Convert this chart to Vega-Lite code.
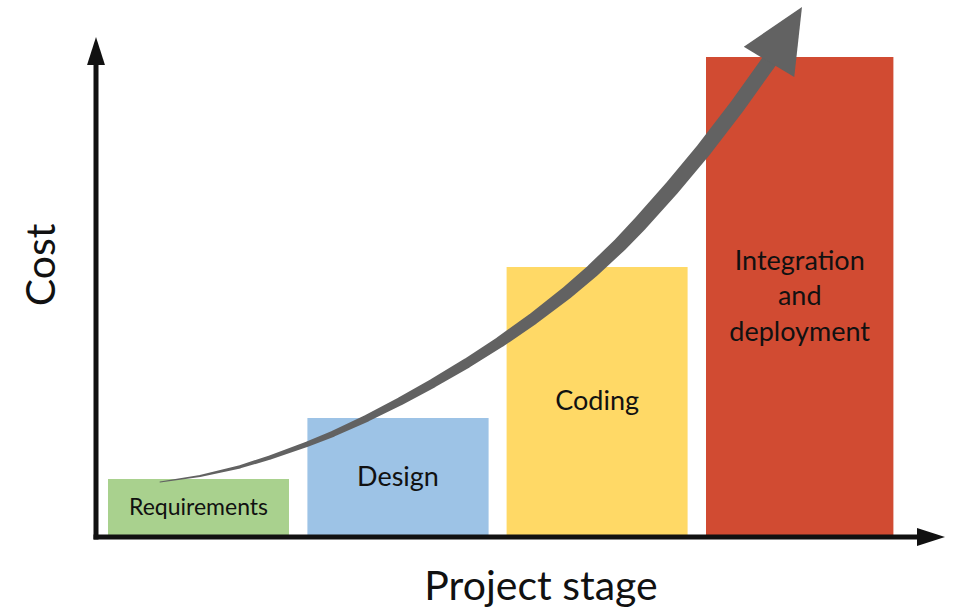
{
  "$schema": "https://vega.github.io/schema/vega-lite/v6.json",
  "width": 957,
  "height": 612,
  "padding": 0,
  "autosize": {"type": "none"},
  "background": "white",
  "config": {"view": {"stroke": null}},
  "datasets": {
    "stages": [
      {"stage": "Requirements", "label": "Requirements", "start": 0, "end": 0.905, "cost": 5.8},
      {"stage": "Design", "label": "Design", "start": 0.997, "end": 1.903, "cost": 11.9},
      {"stage": "Coding", "label": "Coding", "start": 1.993, "end": 2.898, "cost": 27.0},
      {"stage": "Integration and deployment", "label": ["Integration", "and", "deployment"], "start": 2.99, "end": 3.927, "cost": 48.0}
    ],
    "trend": [
      {"x": 0.26, "y": 5.5, "t": 0},
      {"x": 0.46, "y": 6.1, "t": 0.053},
      {"x": 0.66, "y": 7.02, "t": 0.106},
      {"x": 0.81, "y": 7.95, "t": 0.147},
      {"x": 0.995, "y": 9.28, "t": 0.198},
      {"x": 1.125, "y": 10.32, "t": 0.235},
      {"x": 1.295, "y": 11.88, "t": 0.283},
      {"x": 1.46, "y": 13.56, "t": 0.332},
      {"x": 1.625, "y": 15.38, "t": 0.381},
      {"x": 1.795, "y": 17.39, "t": 0.432},
      {"x": 1.96, "y": 19.5, "t": 0.483},
      {"x": 2.125, "y": 21.81, "t": 0.536},
      {"x": 2.295, "y": 24.43, "t": 0.592},
      {"x": 2.425, "y": 26.67, "t": 0.637},
      {"x": 2.56, "y": 29.23, "t": 0.685},
      {"x": 2.66, "y": 31.33, "t": 0.723},
      {"x": 2.82, "y": 34.91, "t": 0.785},
      {"x": 2.975, "y": 38.63, "t": 0.849},
      {"x": 3.145, "y": 43.05, "t": 0.921},
      {"x": 3.295, "y": 47.25, "t": 0.989},
      {"x": 3.32, "y": 47.97, "t": 1.0}
    ],
    "trendHead": [{"x": 3.3875, "y": 50.25}],
    "axes": [
      {"axis": "Cost", "x": -0.06, "y": -0.25, "x2": -0.06, "y2": 47.5},
      {"axis": "Project stage", "x": -0.0725, "y": 0, "x2": 4.06, "y2": 0}
    ],
    "titles": [
      {"title": "Cost", "x": -0.325, "y": 27.2, "rot": "v"},
      {"title": "Project stage", "x": 2.165, "y": -5.1, "rot": "h"}
    ]
  },
  "layer": [
    {
      "data": {"name": "stages"},
      "mark": {"type": "bar"},
      "encoding": {
        "x": {"field": "start", "type": "quantitative", "axis": null, "scale": {"domain": [-0.54, 4.245], "nice": false, "zero": false}},
        "x2": {"field": "end"},
        "y": {"field": "cost", "type": "quantitative", "axis": null, "scale": {"domain": [-7.5, 53.7], "nice": false, "zero": false}},
        "y2": {"datum": 0},
        "color": {
          "field": "stage", "type": "nominal", "legend": null,
          "scale": {"domain": ["Requirements", "Design", "Coding", "Integration and deployment"], "range": ["#a9d18e", "#9dc3e6", "#ffd966", "#d14b32"]}
        }
      }
    },
    {
      "data": {"name": "stages"},
      "transform": [
        {"filter": "datum.stage !== 'Integration and deployment'"},
        {"calculate": "(datum.start + datum.end) / 2", "as": "mid"},
        {"calculate": "datum.cost / 2", "as": "half"}
      ],
      "mark": {"type": "text", "font": "Lato", "color": "#111111", "align": "center", "baseline": "middle"},
      "encoding": {
        "x": {"field": "mid", "type": "quantitative", "axis": null},
        "y": {"field": "half", "type": "quantitative", "axis": null},
        "text": {"field": "label"},
        "size": {"condition": {"test": "datum.stage === 'Requirements'", "value": 23}, "value": 27}
      }
    },
    {
      "data": {"name": "stages"},
      "transform": [
        {"filter": "datum.stage === 'Integration and deployment'"},
        {"calculate": "(datum.start + datum.end) / 2", "as": "mid"},
        {"calculate": "datum.cost / 2", "as": "half"}
      ],
      "mark": {"type": "text", "font": "Lato", "fontSize": 27, "color": "#111111", "align": "center", "baseline": "middle", "lineHeight": 35.5, "dy": -35.5},
      "encoding": {
        "x": {"field": "mid", "type": "quantitative", "axis": null},
        "y": {"field": "half", "type": "quantitative", "axis": null},
        "text": {"field": "label"}
      }
    },
    {
      "data": {"name": "trend"},
      "mark": {"type": "trail", "color": "#626262"},
      "encoding": {
        "x": {"field": "x", "type": "quantitative", "axis": null},
        "y": {"field": "y", "type": "quantitative", "axis": null},
        "order": {"field": "t", "type": "quantitative"},
        "size": {"field": "t", "type": "quantitative", "legend": null, "scale": {"type": "pow", "exponent": 0.8, "domain": [0, 0.75], "range": [0, 15.5], "clamp": true}}
      }
    },
    {
      "data": {"name": "trendHead"},
      "mark": {"type": "point", "filled": true, "opacity": 1, "color": "#626262", "strokeWidth": 0, "shape": "M0,-1L-0.92,1L0.92,1Z", "size": 4096, "angle": 31},
      "encoding": {
        "x": {"field": "x", "type": "quantitative", "axis": null},
        "y": {"field": "y", "type": "quantitative", "axis": null}
      }
    },
    {
      "data": {"name": "axes"},
      "mark": {"type": "rule", "color": "#111111", "strokeWidth": 5, "strokeCap": "butt"},
      "encoding": {
        "x": {"field": "x", "type": "quantitative", "axis": null},
        "x2": {"field": "x2"},
        "y": {"field": "y", "type": "quantitative", "axis": null},
        "y2": {"field": "y2"}
      }
    },
    {
      "data": {"values": [{"axis": "Cost", "x": -0.06, "y": 48.6}]},
      "mark": {"type": "point", "filled": true, "opacity": 1, "color": "#111111", "strokeWidth": 0, "shape": "M0,-1L-0.64,1L0.64,1Z", "size": 784, "angle": 0},
      "encoding": {
        "x": {"field": "x", "type": "quantitative", "axis": null},
        "y": {"field": "y", "type": "quantitative", "axis": null}
      }
    },
    {
      "data": {"values": [{"axis": "Project stage", "x": 4.115, "y": 0}]},
      "mark": {"type": "point", "filled": true, "opacity": 1, "color": "#111111", "strokeWidth": 0, "shape": "M0,-1L-0.64,1L0.64,1Z", "size": 784, "angle": 90},
      "encoding": {
        "x": {"field": "x", "type": "quantitative", "axis": null},
        "y": {"field": "y", "type": "quantitative", "axis": null}
      }
    },
    {
      "data": {"name": "titles"},
      "mark": {"type": "text", "font": "Lato", "fontSize": 41, "color": "#111111", "align": "center", "baseline": "middle"},
      "encoding": {
        "x": {"field": "x", "type": "quantitative", "axis": null},
        "y": {"field": "y", "type": "quantitative", "axis": null},
        "text": {"field": "title"},
        "angle": {"condition": {"test": "datum.rot === 'v'", "value": 270}, "value": 0}
      }
    }
  ]
}
